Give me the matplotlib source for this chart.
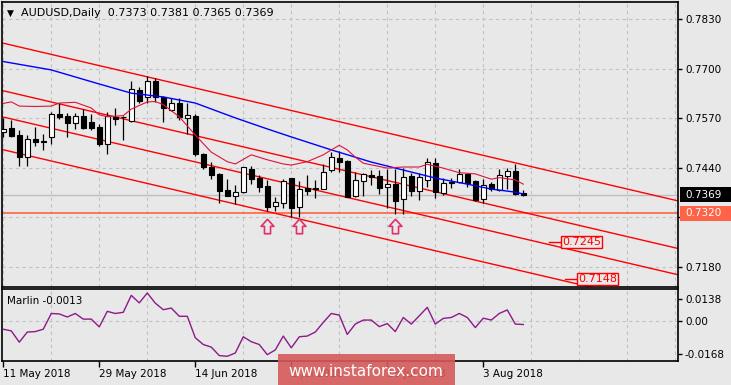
import numpy as np
import matplotlib
matplotlib.use("Agg")
import matplotlib.pyplot as plt
from matplotlib.patches import Rectangle
from matplotlib.path import Path
from matplotlib.transforms import blended_transform_factory

# daily candles, bar 0 = 11 May 2018 ... bar 65 = current bar
opens = [0.7533, 0.7545, 0.7526, 0.7469, 0.7516, 0.7509, 0.7520, 0.7581, 0.7576, 0.7558,
         0.7576, 0.7560, 0.7547, 0.7503, 0.7574, 0.7574, 0.7563, 0.7644, 0.7626, 0.7669,
         0.7627, 0.7592, 0.7609, 0.7572, 0.7576, 0.7475, 0.7442, 0.7424, 0.7382, 0.7367,
         0.7376, 0.7438, 0.7413, 0.7392, 0.7339, 0.7348, 0.7412, 0.7338, 0.7388, 0.7386,
         0.7385, 0.7433, 0.7465, 0.7459, 0.7365, 0.7405, 0.7421, 0.7418, 0.7389, 0.7397,
         0.7357, 0.7418, 0.7379, 0.7408, 0.7452, 0.7374, 0.7403, 0.7403, 0.7423, 0.7405,
         0.7358, 0.7397, 0.7382, 0.7419, 0.7431, 0.7373]
highs = [0.7570, 0.7566, 0.7539, 0.7526, 0.7547, 0.7528, 0.7587, 0.7610, 0.7585, 0.7585,
         0.7594, 0.7581, 0.7554, 0.7586, 0.7596, 0.7577, 0.7668, 0.7652, 0.7681, 0.7676,
         0.7628, 0.7624, 0.7624, 0.7609, 0.7580, 0.7480, 0.7456, 0.7427, 0.7411, 0.7394,
         0.7443, 0.7445, 0.7421, 0.7408, 0.7362, 0.7411, 0.7413, 0.7405, 0.7422, 0.7408,
         0.7450, 0.7481, 0.7483, 0.7460, 0.7429, 0.7425, 0.7434, 0.7435, 0.7438, 0.7438,
         0.7439, 0.7427, 0.7427, 0.7465, 0.7465, 0.7413, 0.7414, 0.7438, 0.7427, 0.7408,
         0.7410, 0.7403, 0.7436, 0.7439, 0.7451, 0.7381]
lows = [0.7522, 0.7522, 0.7445, 0.7445, 0.7497, 0.7487, 0.7503, 0.7567, 0.7522, 0.7541,
        0.7541, 0.7539, 0.7497, 0.7475, 0.7552, 0.7513, 0.7559, 0.7610, 0.7610, 0.7614,
        0.7560, 0.7590, 0.7566, 0.7528, 0.7471, 0.7437, 0.7411, 0.7347, 0.7366, 0.7345,
        0.7374, 0.7397, 0.7377, 0.7326, 0.7327, 0.7335, 0.7310, 0.7311, 0.7368, 0.7360,
        0.7384, 0.7429, 0.7430, 0.7363, 0.7363, 0.7367, 0.7395, 0.7371, 0.7334, 0.7318,
        0.7319, 0.7366, 0.7355, 0.7389, 0.7360, 0.7368, 0.7387, 0.7401, 0.7390, 0.7352,
        0.7347, 0.7378, 0.7378, 0.7384, 0.7368, 0.7365]
closes = [0.7541, 0.7524, 0.7469, 0.7515, 0.7508, 0.7508, 0.7580, 0.7574, 0.7558, 0.7576,
          0.7545, 0.7545, 0.7503, 0.7576, 0.7567, 0.7573, 0.7647, 0.7615, 0.7668, 0.7626,
          0.7598, 0.7609, 0.7574, 0.7578, 0.7476, 0.7442, 0.7421, 0.7380, 0.7367, 0.7376,
          0.7441, 0.7411, 0.7390, 0.7338, 0.7349, 0.7405, 0.7335, 0.7384, 0.7378, 0.7384,
          0.7428, 0.7467, 0.7456, 0.7364, 0.7408, 0.7423, 0.7416, 0.7388, 0.7397, 0.7353,
          0.7417, 0.7380, 0.7417, 0.7454, 0.7376, 0.7400, 0.7400, 0.7424, 0.7401, 0.7355,
          0.7395, 0.7383, 0.7421, 0.7431, 0.7370, 0.7369]

# blue moving average (read at selected bars)
blue_bars = [0, 6, 12, 16, 20, 24, 29, 33, 36, 41, 46, 50, 54, 58, 61, 64, 65]
blue_vals = [0.7719, 0.7697, 0.7660, 0.7636, 0.7626, 0.7610, 0.7571, 0.7542, 0.7521,
             0.7487, 0.7455, 0.7434, 0.7413, 0.7397, 0.7384, 0.7376, 0.7371]

# crimson moving average
pink_bars = [0, 1, 2, 4, 6, 7, 9, 11, 12, 13, 15, 16, 18, 19, 20, 22, 24, 26, 28, 29,
             31, 33, 35, 36, 38, 40, 41, 42, 43, 44, 45, 48, 50, 52, 53, 55, 57, 59, 61,
             62, 64, 65]
pink_vals = [0.7609, 0.7613, 0.7602, 0.7601, 0.7602, 0.7610, 0.7612, 0.7597, 0.7579,
             0.7574, 0.7577, 0.7594, 0.7613, 0.7614, 0.7606, 0.7574, 0.7526, 0.7481,
             0.7456, 0.7450, 0.7474, 0.7461, 0.7450, 0.7447, 0.7456, 0.7474, 0.7487,
             0.7499, 0.7487, 0.7468, 0.7452, 0.7439, 0.7442, 0.7442, 0.7449, 0.7439,
             0.7427, 0.7424, 0.7410, 0.7414, 0.7408, 0.7397]

# Marlin oscillator
marlin = [-0.0033, -0.0040, -0.0088, -0.0045, -0.0043, -0.0033, 0.0034, 0.0032, 0.0019,
          0.0034, 0.0010, 0.0010, -0.0023, 0.0043, 0.0034, 0.0039, 0.0111, 0.0079, 0.0121,
          0.0078, 0.0050, 0.0057, 0.0022, 0.0022, -0.0069, -0.0098, -0.0109, -0.0145,
          -0.0148, -0.0134, -0.0065, -0.0086, -0.0098, -0.0141, -0.0121, -0.0062, -0.0112,
          -0.0065, -0.0062, -0.0045, -0.0004, 0.0034, 0.0027, -0.0055, -0.0011, 0.0006,
          0.0006, -0.0022, -0.0009, -0.0043, 0.0017, -0.0011, 0.0024, 0.0060, -0.0011,
          0.0013, 0.0017, 0.0034, 0.0017, -0.0026, 0.0014, 0.0006, 0.0034, 0.0049,
          -0.0011, -0.0013]

# red channel lines: price at left edge and right edge of the chart
chan_left = [0.7768, 0.7643, 0.7574, 0.7488]
chan_right = [0.7353, 0.7228, 0.7159, 0.7073]

level_price = 0.7320
bid_price = 0.7369
target_labels = ["0.7245", "0.7148"]
target_prices = [0.7245, 0.7148]
target_bars = [69.6, 71.6]

arrow_bars = [33, 37, 49]
arrow_prices = [0.7288, 0.7288, 0.7288]

price_ticks = [0.7830, 0.7700, 0.7570, 0.7440, 0.7310, 0.7180]
price_tick_labels = ["0.7830", "0.7700", "0.7570", "0.7440", "", "0.7180"]  # 0.7310 sits under the 0.7320 box
date_bars = [0, 12, 24, 36, 48, 60]
date_labels = ["11 May 2018", "29 May 2018", "14 Jun 2018", "2 Jul 2018",
               "18 Jul 2018", "3 Aug 2018"]

BG = "#E8E8E8"
GRID = "#C2C2C2"
XMIN, XMAX = -0.16, 84.34

fig = plt.figure(figsize=(7.31, 3.85), dpi=100, facecolor=BG)
ax = fig.add_axes([2 / 731, 1 - 287 / 385, 676 / 731, 285 / 385])
ax2 = fig.add_axes([2 / 731, 1 - 361 / 385, 676 / 731, 72 / 385])

for a in (ax, ax2):
    a.set_facecolor(BG)
    a.set_xlim(XMIN, XMAX)
    a.set_xticks(np.arange(0, 85, 6), minor=True)
    a.grid(True, which="minor", axis="x", color=GRID, ls=(0, (3, 3)), lw=0.8)
    a.set_axisbelow(True)
    for s in a.spines.values():
        s.set_color("black")
        s.set_linewidth(1.2)
    a.yaxis.tick_right()
    a.tick_params(axis="y", length=3, width=1, pad=2, labelsize=7.5)
    a.tick_params(axis="x", which="minor", length=0)

# ---- main price panel
ax.set_ylim(0.71268, 0.78754)
ax.set_yticks(price_ticks)
ax.set_yticklabels(price_tick_labels)
ax.grid(True, axis="y", color=GRID, ls=(0, (3, 3)), lw=0.8)
ax.set_xticks([])

x = np.arange(len(opens))
o, h, l, c = map(np.array, (opens, highs, lows, closes))
ax.vlines(x, l, h, color="black", lw=0.9, zorder=3)
bottoms = np.minimum(o, c)
heights = np.maximum(np.abs(c - o), 0.00003)
cols = ["white" if cc >= oo else "black" for oo, cc in zip(opens, closes)]
ax.bar(x, heights, bottom=bottoms, width=0.6, color=cols, edgecolor="black",
       lw=0.8, zorder=4)

ax.axhline(bid_price, color="#BEBEBE", lw=1, zorder=2)
ax.axhline(level_price, color="#FF6347", lw=1.2, zorder=2)

for pl, pr in zip(chan_left, chan_right):
    ax.plot([XMIN, XMAX], [pl, pr], color="#FF0000", lw=1, zorder=2)

ax.plot(blue_bars, blue_vals, color="#0000FF", lw=1, zorder=5)
ax.plot(pink_bars, pink_vals, color="#DC143C", lw=0.8, zorder=5)

arrow = Path([(0, 1), (-0.89, 0.02), (-0.42, 0.02), (-0.42, -1), (0.42, -1),
              (0.42, 0.02), (0.89, 0.02), (0, 1)],
             [Path.MOVETO] + [Path.LINETO] * 6 + [Path.CLOSEPOLY])
ax.plot(arrow_bars, arrow_prices, ls="none", marker=arrow, ms=10.4,
        mfc="none", mec="#E0306A", mew=1.2, zorder=6)

for lab, pr, bx in zip(target_labels, target_prices, target_bars):
    ax.plot([bx - 1.4, bx], [pr, pr], color="#FF0000", lw=1, zorder=6)
    ax.text(bx + 0.25, pr, lab, color="#FF0000", fontsize=8, va="center", ha="left",
            zorder=7, bbox=dict(boxstyle="square,pad=0.12", fc=BG, ec="#FF0000", lw=1))

tr = blended_transform_factory(ax.transAxes, ax.transData)
for pr, lab, fc in [(bid_price, "0.7369", "black"), (level_price, "0.7320", "#FF6347")]:
    ax.add_patch(Rectangle((1.003, pr - 0.00197), 0.08, 0.00394, transform=tr,
                           fc=fc, ec="none", clip_on=False, zorder=10))
    ax.text(1.0105, pr, lab, transform=tr, color="white", fontsize=7.5,
            va="center", ha="left", zorder=11, clip_on=False)

fig.text(7 / 731, 1 - 13 / 385, "\u25bc", fontsize=6.5, va="center", ha="left")
fig.text(21 / 731, 1 - 13 / 385, "AUDUSD,Daily  0.7373 0.7381 0.7365 0.7369",
         fontsize=8, va="center", ha="left")

# ---- Marlin panel
ax2.set_ylim(-0.0168, 0.0138)
ax2.axhline(0, color=GRID, ls=(0, (3, 3)), lw=0.8, zorder=1)
ax2.set_yticks([0.0096, 0.0, -0.0138])
ax2.set_yticklabels(["0.0138", "0.00", "-0.0168"])
ax2.plot(x, marlin, color="#8B1A8B", lw=1, zorder=3)
ax2.set_xticks(date_bars)
ax2.set_xticklabels(date_labels, ha="left", fontsize=7.5)
ax2.tick_params(axis="x", which="major", length=4, width=1, pad=1.5)
ax2.text(0.007, 0.84, "Marlin -0.0013", transform=ax2.transAxes, fontsize=7.5,
         va="center", ha="left")

# watermark
fig.add_artist(Rectangle((278 / 731, 0), 177 / 731, 31 / 385, transform=fig.transFigure,
                         fc="#D65A5A", ec="none", alpha=0.9, zorder=20))
fig.text(366 / 731, 1 - 371 / 385, "www.instaforex.com", color="white", fontsize=11,
         ha="center", va="center", zorder=21)

fig.savefig("out.png", dpi=100, facecolor=BG)
